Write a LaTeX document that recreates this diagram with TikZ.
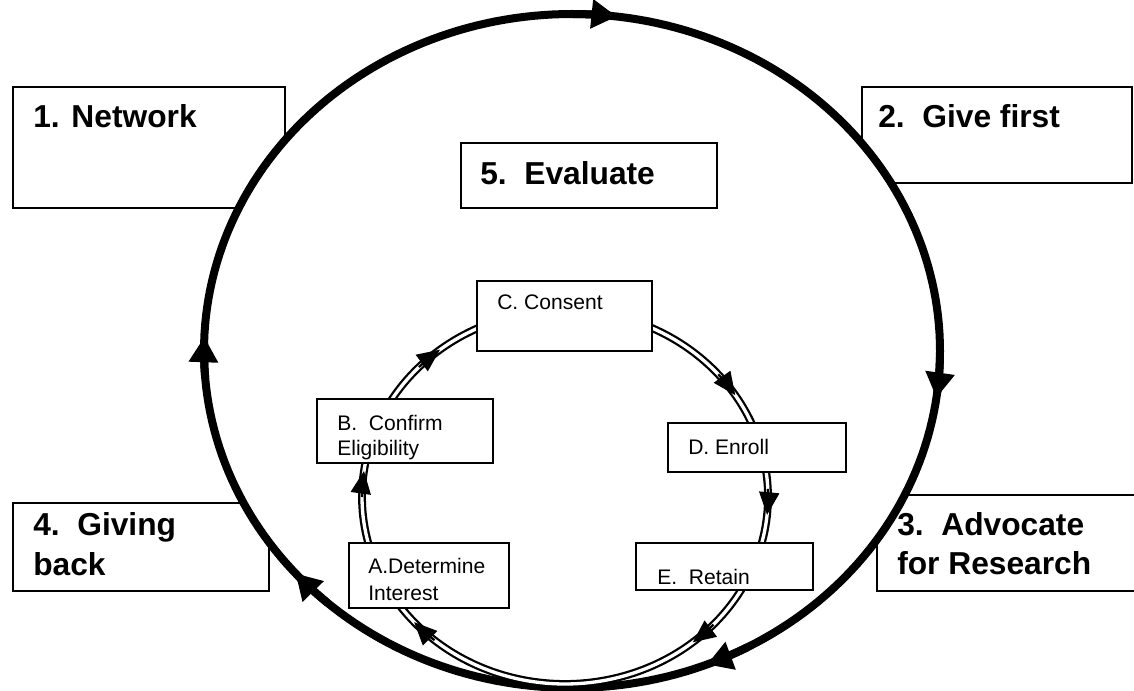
\documentclass[tikz,border=0pt]{standalone}
\usepackage{fontspec}
\setmainfont{Liberation Sans}
\usetikzlibrary{arrows.meta}
\tikzset{
  box/.style={draw, line width=2pt, fill=white, inner sep=0pt, outer sep=0pt, anchor=north west},
  ibox/.style={box, line width=1.7pt},
  big/.style={font=\bfseries\fontsize{23.8pt}{30pt}\selectfont, inner sep=0pt, anchor=base west},
  small/.style={font=\fontsize{15.8pt}{19pt}\selectfont, inner sep=0pt, anchor=base west},
  outerline/.style={line width=6pt},
  innerline/.style={double, line width=1.7pt, double distance=2.5pt},
  oarrow/.style={outerline, -{Triangle[length=19pt,width=21pt]}},
  iarrow/.style={line width=1.7pt, -{Triangle[length=17pt,width=15pt]}},
}
\begin{document}
\begin{tikzpicture}[x=0.75pt,y=-0.75pt]
\useasboundingbox (0,0) rectangle (1134,691);
% outer boxes (behind the circle)
\node[box, minimum width=204pt, minimum height=90.75pt] (b1) at (13,87) {};
\node[box, minimum width=202.5pt, minimum height=72pt] (b2) at (862,87) {};
\node[box, minimum width=192pt, minimum height=66pt] (b4) at (13,503) {};
\node[box, minimum width=197.25pt, minimum height=72pt] (b3) at (877,495) {};
% outer cycle
\draw[outerline, fill=white] plot[domain=0:360, samples=241] ({572+368*cos(\x)},{351+337*sin(\x)}) -- cycle;
\draw[oarrow] plot[domain=1:8, samples=8] ({572+368*cos(\x)},{351+337*sin(\x)});
\draw[oarrow] plot[domain=61.5:68.5, samples=8] ({572+368*cos(\x)},{351+337*sin(\x)});
\draw[oarrow] plot[domain=131.7:138.7, samples=8] ({572+368*cos(\x)},{351+337*sin(\x)});
\draw[oarrow] plot[domain=175.4:182.4, samples=8] ({572+368*cos(\x)},{351+337*sin(\x)});
\draw[oarrow] plot[domain=270:277, samples=8] ({572+368*cos(\x)},{351+337*sin(\x)});
% inner cycle
\draw[innerline] plot[domain=0:360, samples=241] ({565+203*cos(\x)},{497+187*sin(\x)}) -- cycle;
\draw[iarrow] plot[domain=180:188, samples=9] ({565+203*cos(\x)},{497+187*sin(\x)});
\draw[iarrow] plot[domain=224:232, samples=9] ({565+203*cos(\x)},{497+187*sin(\x)});
\draw[iarrow] plot[domain=319:327, samples=9] ({565+203*cos(\x)},{497+187*sin(\x)});
\draw[iarrow] plot[domain=-2.5:5.5, samples=9] ({565+203*cos(\x)},{497+187*sin(\x)});
\draw[iarrow] plot[domain=43:51, samples=9] ({565+203*cos(\x)},{497+187*sin(\x)});
\draw[iarrow] plot[domain=130:138, samples=9] ({565+203*cos(\x)},{497+187*sin(\x)});
% inner boxes
\node[box, minimum width=192pt, minimum height=48.75pt] (b5) at (461,143) {};
\node[ibox, minimum width=131.25pt, minimum height=52.5pt] (bc) at (477,281) {};
\node[ibox, minimum width=132pt, minimum height=48pt] (bb) at (317,399) {};
\node[ibox, minimum width=133.5pt, minimum height=36.75pt] (bd) at (668,423) {};
\node[ibox, minimum width=120pt, minimum height=48.75pt] (ba) at (349,543) {};
\node[ibox, minimum width=132.75pt, minimum height=35.25pt] (be) at (636,543) {};
% texts
\node[big] (t1) at (33,128) {1. Network};
\node[big] (t2) at (878,128) {2.~~Give first};
\node[big] (t5) at (480,185) {5.~~Evaluate};
\node[big] (t4a) at (33,535) {4.~~Giving};
\node[big] (t4b) at (33,575) {back};
\node[big] (t3a) at (897,535) {3.~~Advocate};
\node[big] (t3b) at (897,574) {for Research};
\node[small] (tc) at (497,310) {C. Consent};
\node[small] (tb1) at (337,430) {B.~~Confirm};
\node[small] (tb2) at (337,455) {Eligibility};
\node[small] (td) at (688,454) {D. Enroll};
\node[small] (ta1) at (368,573) {A.Determine};
\node[small] (ta2) at (368,600) {Interest};
\node[small] (te) at (657,584) {E.~~Retain};
\end{tikzpicture}
\end{document}
